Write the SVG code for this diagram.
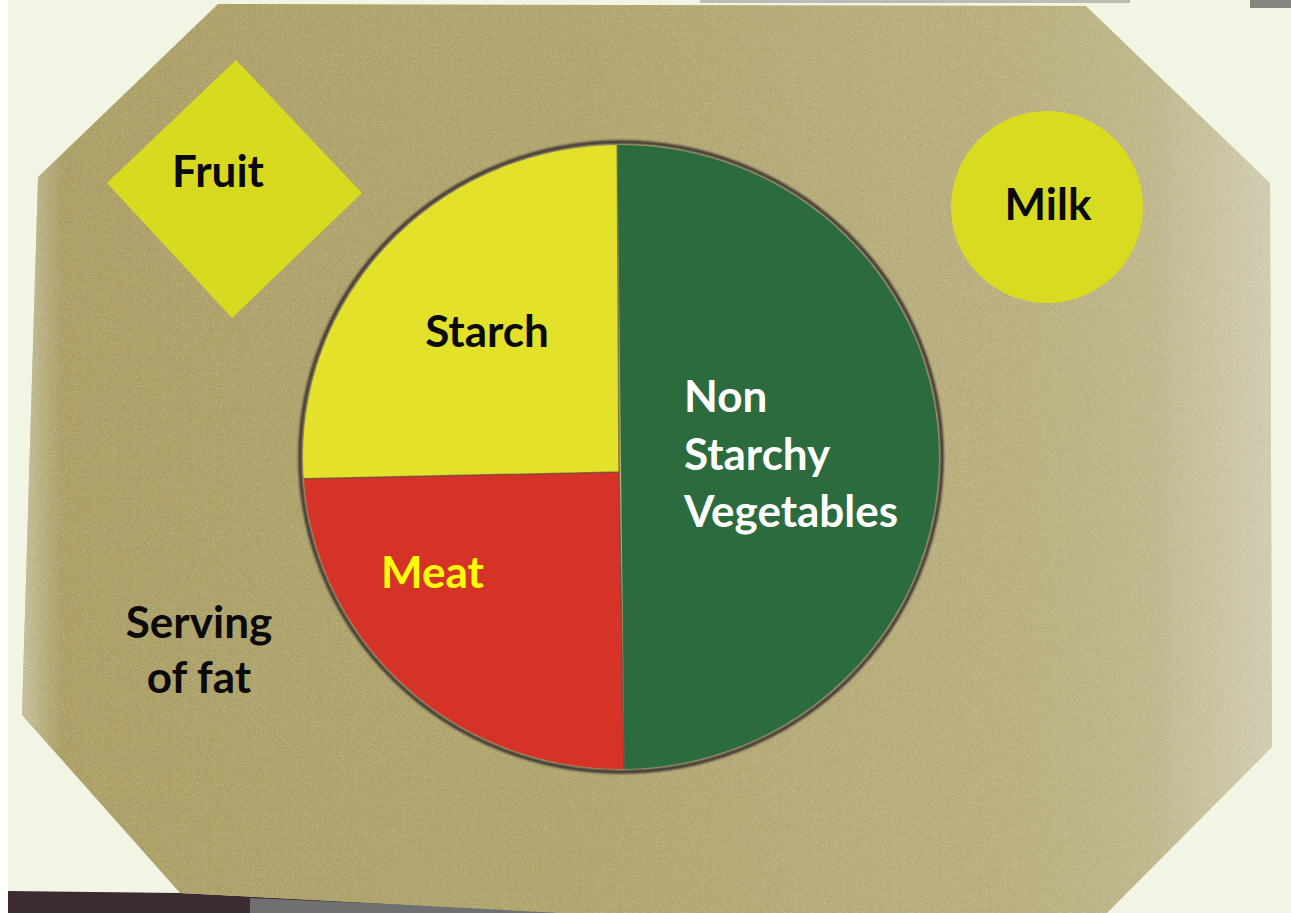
<svg xmlns="http://www.w3.org/2000/svg" width="1291" height="913" viewBox="0 0 1291 913">
  <defs>
    <style>
      .lbl { font-family: Lato, "Open Sans", "Liberation Sans", sans-serif; font-weight: bold; font-size: 44px; }
      .blk { fill: #0a0a0a; }
      .wht { fill: #ffffff; }
      .yel { fill: #ffff00; }
    </style>
    <linearGradient id="matGrad" x1="0" y1="0" x2="1" y2="0">
      <stop offset="0" stop-color="#aa9e65"/>
      <stop offset="0.45" stop-color="#b0a56d"/>
      <stop offset="0.8" stop-color="#b9af7e"/>
      <stop offset="1" stop-color="#c3bc96"/>
    </linearGradient>
    <linearGradient id="leftSheen" x1="0" y1="0" x2="1" y2="0">
      <stop offset="0" stop-color="#d8d4c0" stop-opacity="0.6"/>
      <stop offset="1" stop-color="#d8d4c0" stop-opacity="0"/>
    </linearGradient>
    <linearGradient id="rightSheen" x1="1" y1="0" x2="0" y2="0">
      <stop offset="0" stop-color="#dcd8c6" stop-opacity="0.55"/>
      <stop offset="1" stop-color="#dcd8c6" stop-opacity="0"/>
    </linearGradient>
    <filter id="grain" x="0" y="0" width="100%" height="100%">
      <feTurbulence type="fractalNoise" baseFrequency="0.9" numOctaves="2" seed="3" result="n"/>
      <feColorMatrix type="matrix" in="n" values="0 0 0 0 1  0 0 0 0 1  0 0 0 0 1  3 0 0 0 -1.5"/>
    </filter>
    <filter id="soft" x="-5%" y="-5%" width="110%" height="110%">
      <feGaussianBlur stdDeviation="1.2"/>
    </filter>
    <clipPath id="matClip">
      <polygon points="218,4 1086,6 1270,183 1272,747 1107,913 560,913 180,893 22,715 38,177"/>
    </clipPath>
    <clipPath id="plateClip">
      <ellipse cx="621" cy="457" rx="318" ry="312"/>
    </clipPath>
  </defs>

  <!-- background -->
  <rect x="0" y="0" width="1291" height="913" fill="#f2f5e4"/>
  <rect x="0" y="0" width="8" height="913" fill="#ffffff"/>
  <rect x="700" y="0" width="430" height="3" fill="#6a6a6a" opacity="0.4"/>
  <rect x="1250" y="0" width="41" height="8" fill="#3a3a3a" opacity="0.6"/>
  <polygon points="8,891 180,893 580,913 8,913" fill="#3c2c32"/>
  <polygon points="250,898 580,912 580,913 250,913" fill="#707070"/>

  <!-- placemat -->
  <g id="placemat">
    <polygon points="218,4 1086,6 1270,183 1272,747 1107,913 560,913 180,893 22,715 38,177" fill="url(#matGrad)"/>
    <g clip-path="url(#matClip)">
      <rect x="22" y="0" width="40" height="913" fill="url(#leftSheen)"/>
      <rect x="1150" y="0" width="125" height="913" fill="url(#rightSheen)"/>
      <rect x="0" y="0" width="1291" height="913" filter="url(#grain)" opacity="0.25"/>
    </g>
  </g>

  <!-- fruit -->
  <g id="fruit">
    <polygon points="236,60 362,193 232,318 107,183" fill="#d7da1f"/>
    <text class="lbl blk" x="218" y="187" text-anchor="middle">Fruit</text>
  </g>

  <!-- milk -->
  <g id="milk">
    <circle cx="1047" cy="207" r="96" fill="#d9db20"/>
    <text class="lbl blk" x="1048" y="220" text-anchor="middle">Milk</text>
  </g>

  <!-- plate -->
  <g id="plate">
    <ellipse cx="621" cy="457" rx="321" ry="315" fill="none" stroke="#3e3632" stroke-width="3.5" filter="url(#soft)"/>
    <g clip-path="url(#plateClip)">
      <polygon points="617,100 1000,100 1000,820 625,820" fill="#2c6b3d"/>
      <polygon points="250,100 617,100 619,472 250,480" fill="#e4e12b"/>
      <polygon points="250,480 619,472 625,820 250,820" fill="#d63328"/>
      <polyline points="617,100 619,472 625,820" fill="none" stroke="#4a4a3a" stroke-width="1.5" opacity="0.6"/>
      <line x1="250" y1="480" x2="619" y2="472" stroke="#4a4a3a" stroke-width="1.5" opacity="0.6"/>
    </g>
  </g>

  <g id="starch">
    <text class="lbl blk" x="487" y="347" text-anchor="middle">Starch</text>
  </g>
  <g id="vegetables">
    <text class="lbl wht" x="684" y="412">Non</text>
    <text class="lbl wht" x="684" y="470">Starchy</text>
    <text class="lbl wht" x="684" y="527">Vegetables</text>
  </g>
  <g id="meat">
    <text class="lbl yel" x="381" y="588">Meat</text>
  </g>
  <g id="fat">
    <text class="lbl blk" x="199" y="638" text-anchor="middle">Serving</text>
    <text class="lbl blk" x="199" y="693" text-anchor="middle">of fat</text>
  </g>
  <g id="connectors"/>
</svg>
